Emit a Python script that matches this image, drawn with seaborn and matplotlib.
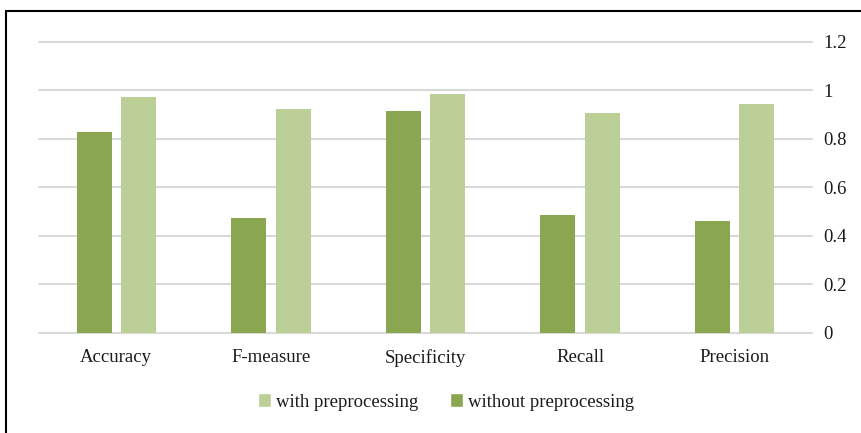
import matplotlib
matplotlib.use("Agg")
import matplotlib.pyplot as plt
from matplotlib.patches import Rectangle, Patch
import seaborn as sns
import pandas as pd

metrics = ["Accuracy", "F-measure", "Specificity", "Recall", "Precision"]
without_pre = [0.826, 0.472, 0.913, 0.485, 0.461]
with_pre = [0.973, 0.922, 0.984, 0.905, 0.943]
series_names = ["without preprocessing", "with preprocessing"]
y_ticks = [0, 0.2, 0.4, 0.6, 0.8, 1.0, 1.2]
y_tick_labels = ["0", "0.2", "0.4", "0.6", "0.8", "1", "1.2"]

dark_green = "#8BA650"
light_green = "#BBCF97"

df = pd.DataFrame({
    "metric": metrics * 2,
    "value": without_pre + with_pre,
    "series": [series_names[0]] * len(metrics) + [series_names[1]] * len(metrics),
})

sns.set_theme(style="white")
plt.rcParams["font.family"] = ["Liberation Serif", "DejaVu Serif"]

fig = plt.figure(figsize=(8.61, 4.33), dpi=100)
ax = fig.add_axes([39 / 861, 1 - 332.7 / 433, (812 - 39) / 861, (332.7 - 41.7) / 433])

sns.barplot(
    data=df, x="metric", y="value", hue="series",
    hue_order=series_names,
    palette=[dark_green, light_green],
    width=0.573, gap=0.21, saturation=1,
    edgecolor="none", ax=ax, legend=False, zorder=3,
)

ax.set_ylim(0, 1.2)
ax.set_xlim(-0.5, len(metrics) - 0.5)
ax.set_yticks(y_ticks)
ax.set_yticklabels(y_tick_labels)
ax.yaxis.tick_right()
ax.grid(axis="y", color="#D9D9D9", linewidth=1.5, zorder=0)
ax.grid(axis="x", visible=False)
for gl in ax.yaxis.get_gridlines():
    gl.set_clip_on(False)
for s in ax.spines.values():
    s.set_visible(False)
ax.tick_params(axis="y", length=0, pad=8, labelsize=13.5, labelcolor="#1a1a1a")
ax.tick_params(axis="x", length=0, pad=12, labelsize=13.5, labelcolor="#1a1a1a")
ax.set_xlabel("")
ax.set_ylabel("")

handles = [Patch(facecolor=light_green, label=series_names[1]),
           Patch(facecolor=dark_green, label=series_names[0])]
fig.legend(handles=handles, loc="center", bbox_to_anchor=(0.518, 1 - 402 / 433),
           ncol=2, frameon=False, fontsize=13.5, handlelength=0.7, handleheight=0.7,
           handletextpad=0.25, columnspacing=1.7, labelcolor="#1a1a1a")

# outer chart frame
fig.patches.append(Rectangle((6 / 861, -0.2), 1.2, 1 - 11 / 433 + 0.2,
                             transform=fig.transFigure, fill=False,
                             edgecolor="black", linewidth=1.5))

fig.savefig("out.png", dpi=100)
